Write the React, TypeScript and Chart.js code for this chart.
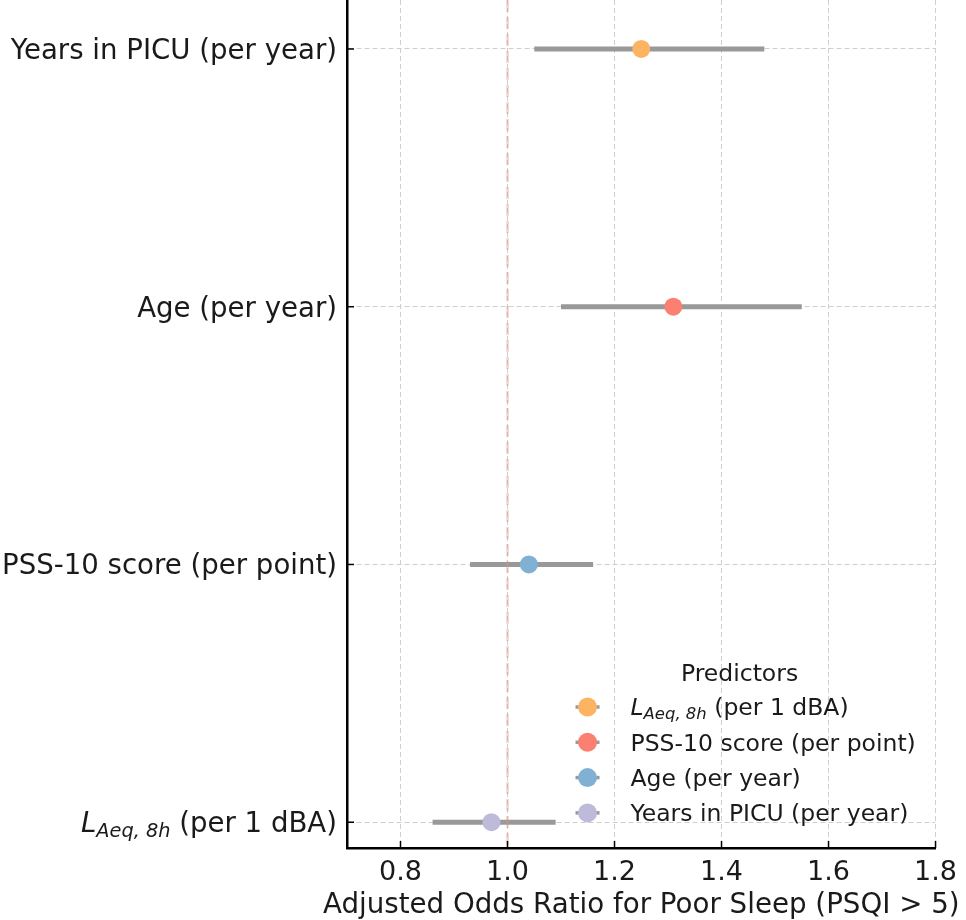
import React, { useEffect, useRef } from "react";
import { Chart, registerables } from "chart.js";

Chart.register(...registerables);

const FONT = "'DejaVu Sans', 'Liberation Sans', sans-serif";

// Categories listed top to bottom
const categories = [
  "Years in PICU (per year)",
  "Age (per year)",
  "PSS-10 score (per point)",
  "$L_{Aeq, 8h}$ (per 1 dBA)",
];
const oddsRatio = [1.25, 1.31, 1.04, 0.97];
const ciLow = [1.05, 1.1, 0.93, 0.86];
const ciHigh = [1.48, 1.55, 1.16, 1.09];
const pointColors = ["#fdb462", "#fb8072", "#80b1d3", "#bebada"];

const legendTitle = "Predictors";
const legendLabels = [
  "$L_{Aeq, 8h}$ (per 1 dBA)",
  "PSS-10 score (per point)",
  "Age (per year)",
  "Years in PICU (per year)",
];
const legendColors = ["#fdb462", "#fb8072", "#80b1d3", "#bebada"];

const xTicks = [0.8, 1.0, 1.2, 1.4, 1.6, 1.8];
const referenceOR = 1.0;
const xTitle = "Adjusted Odds Ratio for Poor Sleep (PSQI > 5)";

const yPos = (i: number) => categories.length - 1 - i;

function drawRichLabel(
  ctx: CanvasRenderingContext2D,
  text: string,
  x: number,
  yCenter: number,
  size: number,
  align: "left" | "right" | "center",
  color: string
) {
  const baseline = yCenter + size * 0.36;
  ctx.save();
  ctx.fillStyle = color;
  ctx.textBaseline = "alphabetic";
  ctx.textAlign = "left";
  const m = text.match(/^\$L_\{(.+?)\}\$(.*)$/);
  const segs: { t: string; font: string; dy: number }[] = m
    ? [
        { t: "L", font: `italic ${size}px ${FONT}`, dy: 0 },
        { t: m[1], font: `italic ${size * 0.7}px ${FONT}`, dy: size * 0.17 },
        { t: m[2], font: `${size}px ${FONT}`, dy: 0 },
      ]
    : [{ t: text, font: `${size}px ${FONT}`, dy: 0 }];
  let total = 0;
  const widths = segs.map((s) => {
    ctx.font = s.font;
    const w = ctx.measureText(s.t).width;
    total += w;
    return w;
  });
  let cx = align === "right" ? x - total : align === "center" ? x - total / 2 : x;
  segs.forEach((s, k) => {
    ctx.font = s.font;
    ctx.fillText(s.t, cx, baseline + s.dy);
    cx += widths[k];
  });
  ctx.restore();
}

const decorPlugin = {
  id: "decor",
  afterDatasetsDraw(chart: any) {
    const { ctx, chartArea, scales } = chart;
    const xs = scales.x;
    const rx = xs.getPixelForValue(referenceOR);
    ctx.save();
    ctx.strokeStyle = "rgba(220, 150, 130, 0.42)";
    ctx.lineWidth = 2.5;
    ctx.setLineDash([12, 5]);
    ctx.beginPath();
    ctx.moveTo(rx, chartArea.top);
    ctx.lineTo(rx, chartArea.bottom);
    ctx.stroke();
    ctx.restore();
  },
  afterDraw(chart: any) {
    const { ctx, chartArea, scales } = chart;
    const xs = scales.x;
    const ys = scales.y;
    // inward ticks
    ctx.save();
    ctx.strokeStyle = "#000";
    ctx.lineWidth = 1.5;
    xs.ticks.forEach((t: any) => {
      const px = xs.getPixelForValue(t.value);
      ctx.beginPath();
      ctx.moveTo(px, chartArea.bottom);
      ctx.lineTo(px, chartArea.bottom - 7);
      ctx.stroke();
    });
    ys.ticks.forEach((t: any) => {
      const py = ys.getPixelForValue(t.value);
      ctx.beginPath();
      ctx.moveTo(chartArea.left, py);
      ctx.lineTo(chartArea.left + 7, py);
      ctx.stroke();
    });
    ctx.restore();
    // y labels
    categories.forEach((c, i) => {
      const py = ys.getPixelForValue(yPos(i));
      drawRichLabel(ctx, c, chartArea.left - 10, py, 27.6, "right", "#1a1a1a");
    });
    // x title
    drawRichLabel(
      ctx,
      xTitle,
      (chartArea.left + chartArea.right) / 2,
      chartArea.bottom + 55,
      27.7,
      "center",
      "#1a1a1a"
    );
    // legend
    const titleX = chartArea.right - 196;
    const titleY = chartArea.bottom - 175;
    drawRichLabel(ctx, legendTitle, titleX, titleY, 23.5, "center", "#1a1a1a");
    const markerX = chartArea.right - 348;
    const textX = chartArea.right - 305;
    legendLabels.forEach((lab, k) => {
      const y = chartArea.bottom - 141 + k * 35.3;
      ctx.save();
      ctx.strokeStyle = "#999999";
      ctx.lineWidth = 3.5;
      ctx.beginPath();
      ctx.moveTo(markerX - 12, y);
      ctx.lineTo(markerX + 12, y);
      ctx.stroke();
      ctx.fillStyle = legendColors[k];
      ctx.beginPath();
      ctx.arc(markerX, y, 9.5, 0, Math.PI * 2);
      ctx.fill();
      ctx.restore();
      drawRichLabel(ctx, lab, textX, y, 23.5, "left", "#1a1a1a");
    });
  },
};

export default function App() {
  const ref = useRef<HTMLCanvasElement | null>(null);
  useEffect(() => {
    if (!ref.current) return;
    const chart = new Chart(ref.current, {
      type: "scatter",
      data: {
        datasets: [
          {
            type: "scatter",
            data: oddsRatio.map((v, i) => ({ x: v, y: yPos(i) })),
            pointRadius: 9,
            pointHoverRadius: 9,
            pointBackgroundColor: pointColors,
            pointBorderWidth: 0,
            order: 0,
          } as any,
          ...categories.map(
            (_, i) =>
              ({
                type: "line",
                data: [
                  { x: ciLow[i], y: yPos(i) },
                  { x: ciHigh[i], y: yPos(i) },
                ],
                borderColor: "#999999",
                borderWidth: 5,
                borderCapStyle: "butt",
                pointRadius: 0,
                fill: false,
                order: 1,
              } as any)
          ),
        ],
      },
      options: {
        responsive: false,
        animation: false,
        events: [],
        layout: { autoPadding: false, padding: { left: 0, right: 28, top: 0, bottom: 0 } },
        plugins: { legend: { display: false }, tooltip: { enabled: false } },
        scales: {
          x: {
            type: "linear",
            min: 0.7,
            max: 1.8,
            afterBuildTicks: (s: any) => {
              s.ticks = xTicks.map((v) => ({ value: v }));
            },
            afterFit: (s: any) => {
              s.height = 72;
            },
            grid: { color: "#cfcfcf", lineWidth: 1, drawTicks: false },
            border: { display: true, color: "#000", width: 2.5, dash: [5, 3] },
            ticks: {
              font: { family: FONT, size: 27 },
              color: "#1a1a1a",
              padding: 9,
              maxRotation: 0,
              autoSkip: false,
              callback: (v: any) => Number(v).toFixed(1),
            },
            title: { display: false },
          },
          y: {
            type: "linear",
            min: -0.1,
            max: 3.19,
            afterBuildTicks: (s: any) => {
              s.ticks = categories.map((_, i) => ({ value: yPos(i) }));
            },
            afterFit: (s: any) => {
              s.width = 347;
              s.paddingTop = 0;
              s.paddingBottom = 0;
            },
            grid: { color: "#cfcfcf", lineWidth: 1, drawTicks: false },
            border: { display: true, color: "#000", width: 2.5, dash: [5, 3] },
            ticks: { display: false },
          },
        },
      } as any,
      plugins: [decorPlugin],
    });
    return () => chart.destroy();
  }, []);
  return (
    <div style={{ position: "absolute", left: 0, top: 0, width: 966, height: 920, background: "#fff" }}>
      <canvas ref={ref} width={966} height={920} style={{ width: 966, height: 920, display: "block" }} />
    </div>
  );
}
